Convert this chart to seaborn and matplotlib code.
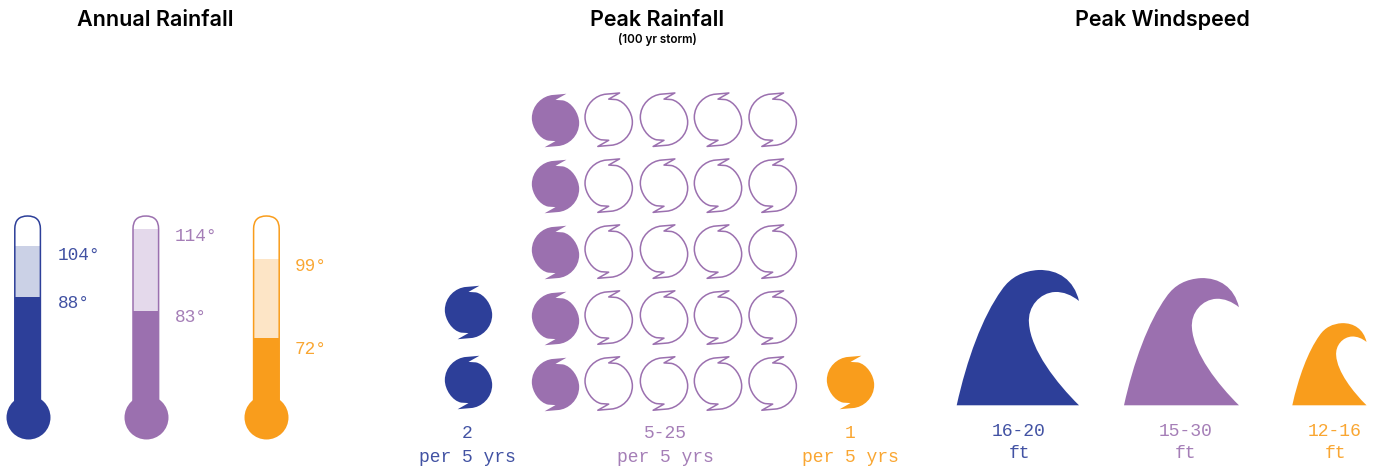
"""
Storm comparison infographic: temperature, rainfall and wave height
for three regions. Main axes is in pixel coordinates of the final image.
"""
import numpy as np
import pandas as pd
import matplotlib.pyplot as plt
from matplotlib.patches import FancyBboxPatch, PathPatch
from matplotlib.path import Path
from matplotlib.transforms import Affine2D
import seaborn as sns

W, H = 1392, 468

BLUE   = "#2D3F99"
PURPLE = "#9B70AF"
ORANGE = "#F99D1C"
LIGHT  = ["#CBD1E6", "#E4D9EB", "#FDE5C6"]
COLORS = [BLUE, PURPLE, ORANGE]

# thermometers
temp_low   = [88, 83, 72]
temp_high  = [104, 114, 99]
# share of the tube that is filled
fill_low   = [0.561, 0.485, 0.339]
fill_high  = [0.837, 0.929, 0.766]

# storms
storm_filled = [2, 5, 1]
storm_total  = [2, 25, 1]
storm_labels = ["2", "5-25", "1"]
storm_unit   = "per 5 yrs"

# waves
wave_labels = ["16-20", "15-30", "12-16"]
wave_unit   = "ft"
wave_sizes  = [1.0, 0.94, 0.607]

TUBE_X  = [27.6, 145.8, 266.4]
TUBE_W  = 25.6
TUBE_TOP, TUBE_BOT = 216, 400
BULB_Y  = 417
TEMP_X  = [57.5, 175, 295]
HIGH_Y  = [256, 236.5, 266.5]
LOW_Y   = [303.5, 317.5, 349.5]
STORM_R = 23.67
MONO = "Liberation Mono"


def storm_marker():
    # circle with a barb on top and bottom, point symmetric
    half = np.array([
        (0.31, 0.85),
        (0.68, 0.78), (1.0, 0.30), (1.0, -0.10),
        (1.0, -0.65), (0.55, -1.05), (0.10, -1.08),
        (-0.10, -1.09), (-0.30, -1.12), (-0.46, -1.13),
        (0.0, -0.87),
    ])
    pts = np.vstack([half, -half, half[:1]])
    half_codes = [Path.CURVE4] * 9 + [Path.LINETO]
    codes = [Path.MOVETO] + half_codes + [Path.LINETO] + half_codes + [Path.CLOSEPOLY]
    return Path(pts, codes)


def wave_path():
    # outline traced from the tallest wave, base from 0 to 1 wide, 0 to 1 high
    v = np.array([
        (50, 436), (80, 300), (127, 170), (185, 90),
        (212, 50), (250, 33), (295, 30),
        (355, 28), (402, 60), (417, 123),
        (395, 105), (370, 95), (345, 96),
        (300, 98), (262, 140), (267, 190),
        (272, 270), (350, 370), (417, 436),
        (50, 436),
    ], dtype=float)
    v = (v - [50, 436]) / [367, -406]
    codes = [Path.MOVETO] + [Path.CURVE4] * 18 + [Path.CLOSEPOLY]
    return Path(v, codes)


sns.set_theme(style="white")
plt.rcParams["font.family"] = ["Inter", "DejaVu Sans"]

fig = plt.figure(figsize=(W / 100, H / 100), dpi=100)
ax = fig.add_axes([0, 0, 1, 1], zorder=2)
ax.set_xlim(0, W)
ax.set_ylim(H, 0)
ax.axis("off")
ax.patch.set_alpha(0)

# titles
for x, t in zip([155.5, 657, 1162], ["Annual Rainfall", "Peak Rainfall", "Peak Windspeed"]):
    ax.text(x, 20, t, ha="center", va="center", fontsize=15.5, fontweight="semibold", color="black")
ax.text(657, 40, "(100 yr storm)", ha="center", va="center", fontsize=8.4,
        fontweight="semibold", color="black")

# thermometers
for i, col in enumerate(COLORS):
    left = (TUBE_X[i] - TUBE_W / 2) / W
    bottom = 1 - TUBE_BOT / H
    tube = fig.add_axes([left, bottom, TUBE_W / W, (TUBE_BOT - TUBE_TOP) / H], zorder=1)
    name = ["t"]
    sns.barplot(x=name, y=[fill_high[i]], color=LIGHT[i], saturation=1, width=1, linewidth=0, ax=tube)
    sns.barplot(x=name, y=[fill_low[i]], color=col, saturation=1, width=1, linewidth=0, ax=tube)
    tube.set_ylim(0, 1)
    tube.axis("off")

    ax.add_patch(FancyBboxPatch((TUBE_X[i] - TUBE_W / 2, TUBE_TOP), TUBE_W, 206,
                                boxstyle=f"round,pad=0,rounding_size={TUBE_W / 2}",
                                fc="none", ec=col, lw=1.1))
    sns.scatterplot(x=[TUBE_X[i]], y=[BULB_Y], s=1003, color=col, linewidth=0, ax=ax, legend=False)

    ax.text(TEMP_X[i], HIGH_Y[i], f"{temp_high[i]}°", color=col,
            family=MONO, fontsize=12.8, va="center", alpha=0.9)
    ax.text(TEMP_X[i], LOW_Y[i], f"{temp_low[i]}°", color=col,
            family=MONO, fontsize=12.8, va="center", alpha=0.9)

# storms, stacked from the bottom row up, filled ones in the first column
marker = storm_marker()
storm_s = (2 * np.abs(marker.vertices).max() * STORM_R * 0.72) ** 2
cols = [1, 5, 1]
col_x = [[468], [555, 608.7, 664, 718, 772.7], [850]]
row_gap = [70, 65.95, 0]
base_y = [382.3, 383.5, 382.3]
label_x = [467, 665, 850]
for i, col in enumerate(COLORS):
    rows = storm_total[i] // cols[i]
    spots = pd.DataFrame(
        [(col_x[i][c], base_y[i] - r * row_gap[i], c * rows + r)
         for c in range(cols[i]) for r in range(rows)],
        columns=["x", "y", "n"])
    solid = spots[spots["n"] < storm_filled[i]]
    hollow = spots[spots["n"] >= storm_filled[i]]
    sns.scatterplot(data=solid, x="x", y="y", marker=marker, s=storm_s, color=col,
                    linewidth=0, ax=ax, legend=False)
    if len(hollow):
        sns.scatterplot(data=hollow, x="x", y="y", marker=marker, s=storm_s, facecolor="none",
                        edgecolor=col, linewidth=1.1, ax=ax, legend=False)
    ax.text(label_x[i], 433.5, storm_labels[i], color=col, family=MONO, fontsize=13,
            ha="center", va="center", alpha=0.9)
    ax.text(label_x[i], 457, storm_unit, color=col, family=MONO, fontsize=13,
            ha="center", va="center", alpha=0.9)

# waves
wave = wave_path()
wave_x = [956.7, 1124, 1292.3]
wave_label_x = [1019, 1186, 1335]
for i, col in enumerate(COLORS):
    sc = wave_sizes[i]
    tr = Affine2D().scale(122.3 * sc, -135.3 * sc).translate(wave_x[i], 405.3)
    ax.add_patch(PathPatch(wave.transformed(tr), fc=col, ec="none"))
    ax.text(wave_label_x[i], 431, wave_labels[i], color=col, family=MONO, fontsize=13,
            ha="center", va="center", alpha=0.9)
    ax.text(wave_label_x[i], 453, wave_unit, color=col, family=MONO, fontsize=13,
            ha="center", va="center", alpha=0.9)

ax.set_xlim(0, W)
ax.set_ylim(H, 0)
fig.savefig("out.png", dpi=100, facecolor="white")
plt.close()
